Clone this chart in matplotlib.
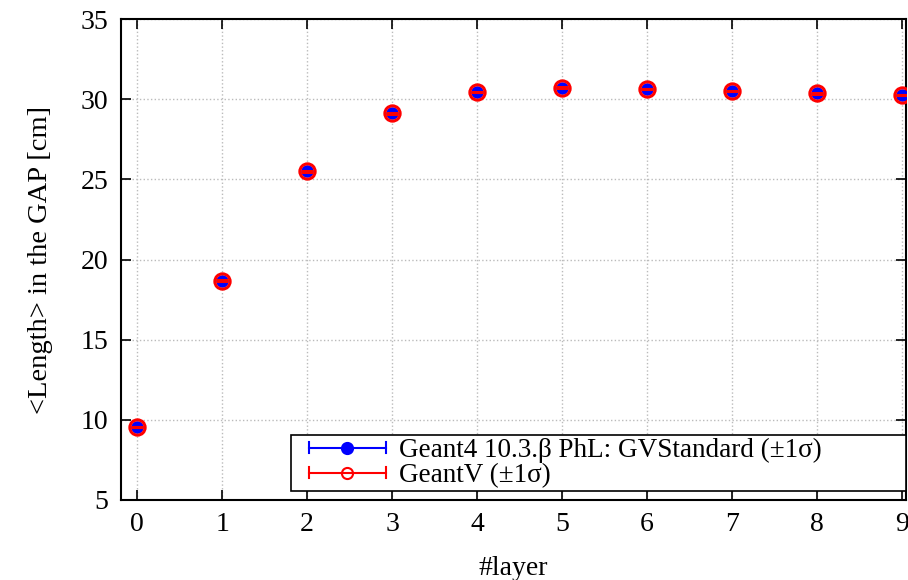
import matplotlib
matplotlib.use('Agg')
import matplotlib.pyplot as plt
from matplotlib.lines import Line2D
from matplotlib.legend_handler import HandlerBase
import numpy as np

plt.rcParams['font.family'] = ['Liberation Serif', 'DejaVu Serif']

layers = [0, 1, 2, 3, 4, 5, 6, 7, 8, 9]
geant4_len = [9.55, 18.68, 25.5, 29.13, 30.45, 30.72, 30.65, 30.52, 30.38, 30.26]
geantv_len = [9.55, 18.68, 25.5, 29.13, 30.45, 30.72, 30.65, 30.52, 30.38, 30.26]
geant4_err = [0.02] * 10
geantv_err = [0.02] * 10


class HandlerBarKey(HandlerBase):
    # gnuplot style key: horizontal line with end caps and marker in the middle
    def create_artists(self, legend, orig, xd, yd, width, height, fontsize, trans):
        c = orig.get_color()
        y = height / 2 - yd
        x0, x1 = -xd + 0.16 * width, -xd + width
        h = height * 0.3
        line = Line2D([x0, x1], [y, y], color=c, lw=1.5, transform=trans)
        cap0 = Line2D([x0, x0], [y - h, y + h], color=c, lw=1.5, transform=trans)
        cap1 = Line2D([x1, x1], [y - h, y + h], color=c, lw=1.5, transform=trans)
        mk = Line2D([(x0 + x1) / 2], [y], marker='o', ms=orig.get_markersize(),
                    mfc=orig.get_markerfacecolor(), mec=c, mew=1.5,
                    linestyle='none', transform=trans)
        return [line, cap0, cap1, mk]


fig = plt.figure(figsize=(9.08, 5.8), dpi=100)
ax = fig.add_axes([0.1333, 0.138, 0.8645, 0.829])

ax.errorbar(layers, geant4_len, yerr=geant4_err, fmt='o', color='blue',
            ms=9, mew=0, capsize=3, elinewidth=1, zorder=3)
ax.errorbar(layers, geantv_len, yerr=geantv_err, fmt='o', color='red',
            mfc='none', mec='red', mew=2.2, ms=11, capsize=4.5, capthick=1.8,
            elinewidth=1, zorder=4)

ax.set_xlim(-0.19, 9.05)
ax.set_ylim(5, 35)
ax.set_xticks(layers)
ax.set_yticks([5, 10, 15, 20, 25, 30, 35])
ax.tick_params(direction='in', top=True, right=True, length=7, width=1.2,
               labelsize=20, pad=9)
ax.grid(True, linestyle=':', color='#bbbbbb', linewidth=1)
for s in ax.spines.values():
    s.set_linewidth(1.5)

ax.set_xlabel('#layer', fontsize=20, labelpad=13)
ax.set_ylabel('<Length> in the GAP [cm]', fontsize=20.5, labelpad=20)

h_g4 = Line2D([], [], color='blue', marker='o', ms=8, mfc='blue')
h_gv = Line2D([], [], color='red', marker='o', ms=8, mfc='none')
leg = ax.legend([h_g4, h_gv],
                ['Geant4 10.3.\u03b2 PhL: GVStandard (\u00b11\u03c3)',
                 'GeantV (\u00b11\u03c3)'],
                handler_map={Line2D: HandlerBarKey()},
                loc='lower left', bbox_to_anchor=(0.2166, 0.019, 0.783, 0),
                mode='expand', fontsize=19.5,
                frameon=True, fancybox=False, edgecolor='black',
                borderaxespad=0, handlelength=3.4, borderpad=0.1,
                labelspacing=0.0, handletextpad=0.5, framealpha=1)
leg.get_frame().set_linewidth(1.2)

fig.savefig('out.png', dpi=100)
